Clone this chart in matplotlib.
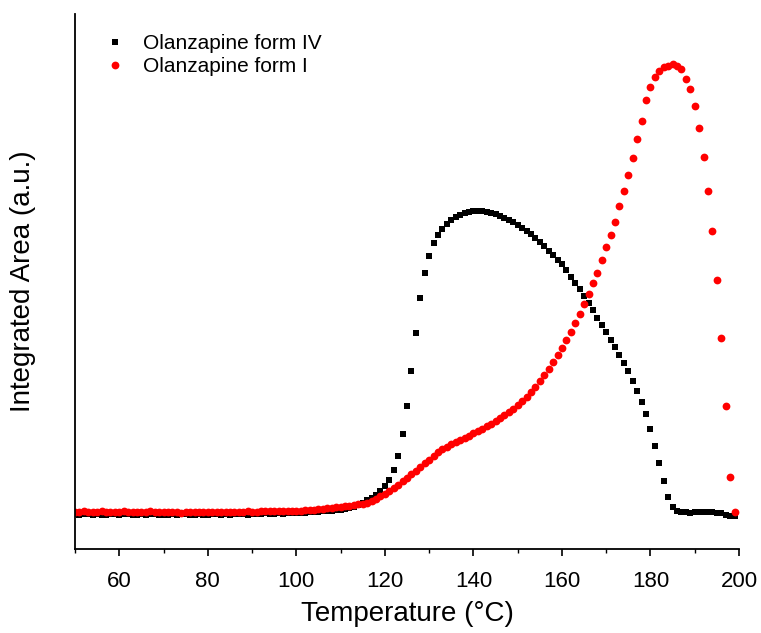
import numpy as np
from matplotlib import pyplot as plt

plt.rcParams['font.family'] = ['Liberation Sans', 'DejaVu Sans']

# temperature in °C, one reading per degree
temperature = np.arange(50, 200)

# Olanzapine form IV (squares)
form_iv = [
    6, 5, 6, 6, 5, 6, 5, 5, 6, 6,
    5, 6, 6, 5, 5, 6, 5, 6, 6, 5,
    5, 5, 6, 5, 6, 6, 5, 5, 6, 5,
    5, 6, 6, 5, 6, 5, 6, 6, 6, 5,
    6, 6, 6, 7, 6, 6, 7, 6, 7, 7,
    7, 7, 7, 8, 8, 8, 9, 9, 9, 10,
    10, 11, 12, 13, 15, 17, 20, 22, 25, 29,
    34, 40, 50, 64, 86, 114, 149, 187, 222, 247,
    264, 277, 285, 291, 296, 300, 303, 305, 307, 308,
    309, 309, 309, 308, 307, 306, 304, 302, 300, 298,
    295, 292, 289, 286, 282, 278, 274, 269, 265, 260,
    256, 250, 243, 237, 231, 224, 217, 210, 202, 195,
    188, 180, 173, 165, 157, 149, 139, 129, 118, 106,
    91, 74, 57, 39, 23, 13, 9, 8, 8, 7,
    8, 8, 8, 8, 8, 7, 7, 5, 4, 4,
]

# Olanzapine form I (circles)
form_i = [
    8, 8, 9, 8, 8, 8, 9, 8, 8, 8,
    8, 9, 8, 8, 8, 8, 8, 9, 8, 8,
    8, 8, 8, 8, 7, 8, 8, 8, 8, 8,
    8, 8, 8, 8, 8, 8, 8, 8, 8, 9,
    8, 8, 9, 9, 9, 9, 9, 9, 9, 9,
    9, 9, 10, 10, 10, 11, 11, 12, 12, 13,
    13, 14, 14, 15, 16, 16, 17, 19, 21, 24,
    26, 29, 32, 35, 39, 42, 46, 49, 53, 57,
    60, 64, 68, 71, 73, 76, 78, 80, 82, 84,
    87, 89, 91, 94, 96, 99, 102, 105, 108, 111,
    115, 119, 123, 128, 133, 139, 145, 151, 158, 165,
    172, 180, 188, 197, 206, 216, 226, 237, 247, 260,
    273, 285, 298, 314, 329, 345, 362, 381, 399, 420,
    433, 443, 449, 453, 454, 456, 454, 451, 441, 431,
    414, 392, 363, 329, 289, 240, 182, 114, 43, 8,
]

fig = plt.figure(figsize=(7.61, 6.33), dpi=100)
ax = fig.add_axes([0.0986, 0.1327, 0.8725, 0.8452])

ax.plot(temperature, form_iv, 's', color='black', markersize=4.6,
        markeredgewidth=0, label='Olanzapine form IV')
ax.plot(temperature, form_i, 'o', color='red', markersize=5.6,
        markeredgewidth=0, label='Olanzapine form I')

ax.set_xlim(50, 200)
ax.set_ylim(-29, 506)
ax.set_xticks(np.arange(60, 201, 20))
ax.set_xticks(np.arange(50, 201, 10), minor=True)
ax.set_yticks([])

for side in ['top', 'right']:
    ax.spines[side].set_visible(False)
for side in ['left', 'bottom']:
    ax.spines[side].set_linewidth(1.3)

ax.tick_params(axis='x', which='major', direction='out', length=5, width=1.2,
               labelsize=16, pad=11)
ax.tick_params(axis='x', which='minor', direction='out', length=3, width=1.0)

ax.set_xlabel('Temperature (°C)', fontsize=20, labelpad=6)
ax.set_ylabel('Integrated Area (a.u.)', fontsize=20, labelpad=28)

ax.legend(loc='upper left', bbox_to_anchor=(0.045, 0.962), frameon=False,
          fontsize=15, handlelength=1, handletextpad=0.85, labelspacing=0.2,
          borderpad=0, borderaxespad=0, numpoints=1)

plt.savefig('out.png', dpi=100)
